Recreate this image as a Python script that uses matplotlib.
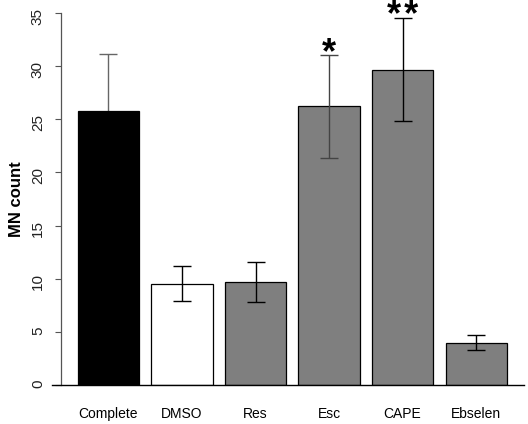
import numpy as np
import matplotlib
matplotlib.use('Agg')
import matplotlib.pyplot as plt

plt.rcParams['font.family'] = ['Liberation Sans', 'DejaVu Sans']

groups = ['Complete', 'DMSO', 'Res', 'Esc', 'CAPE', 'Ebselen']
means = [25.8, 9.5, 9.65, 26.25, 29.7, 3.95]
err_hi = [31.15, 11.2, 11.55, 31.1, 34.6, 4.65]
err_lo = [20.45, 7.85, 7.8, 21.4, 24.85, 3.25]
stars = ['', '', '', '*', '*\u200a*', '']

fills = ['black', 'white', '#7f7f7f', '#7f7f7f', '#7f7f7f', '#7f7f7f']
err_cols = ['#666666', 'black', 'black', '#444444', 'black', 'black']

fig = plt.figure(figsize=(5.28, 4.24), dpi=100)
ax = fig.add_axes([0.0985, 0.0927, 0.8939, 0.8759])

x = 0.7 + 1.2 * np.arange(len(groups))   # R barplot style centres
ax.bar(x, means, width=1.0, color=fills, edgecolor='black', linewidth=0.9, zorder=2)

for i in range(len(groups)):
    m = means[i]
    # the black bar hides its own lower whisker in the original
    z = 1 if fills[i] == 'black' else 3
    ax.errorbar(x[i], m, yerr=[[m - err_lo[i]], [err_hi[i] - m]], fmt='none',
                ecolor=err_cols[i], elinewidth=1.0, capsize=6.5, capthick=1.0, zorder=z)
    if stars[i]:
        ax.annotate(stars[i], xy=(x[i], err_hi[i]), xytext=(0, -6), textcoords='offset points',
                    ha='center', va='baseline', fontsize=26, fontweight='bold',
                    annotation_clip=False)

ax.set_xlim(-0.22, 7.48)
ax.set_ylim(0, 35)
ax.set_yticks(np.arange(0, 36, 5))
ax.set_xticks(x)
ax.set_xticklabels(groups, fontsize=10)
ax.tick_params(axis='x', length=0, pad=16)
ax.tick_params(axis='y', length=4.5, width=0.8, color='#555555', pad=7,
               labelsize=11, labelrotation=90, labelcolor='#222222')
plt.setp(ax.get_yticklabels(), va='center')

ax.spines['top'].set_visible(False)
ax.spines['right'].set_visible(False)
ax.spines['left'].set_position(('data', -0.075))
ax.spines['left'].set_bounds(0, 35)
ax.spines['left'].set_color('#555555')
ax.spines['left'].set_linewidth(0.9)
ax.spines['bottom'].set_linewidth(1.0)

fig.text(17 / 528, 1 - 199 / 424, 'MN count', rotation=90, ha='center', va='center',
         fontsize=12, fontweight='bold')

fig.savefig('out.png', dpi=100)
